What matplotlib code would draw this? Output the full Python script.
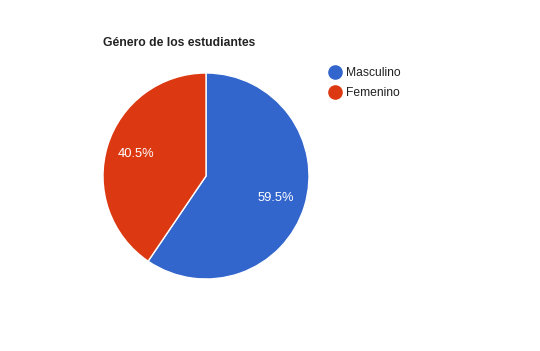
import matplotlib
matplotlib.use('Agg')
import matplotlib.pyplot as plt
from matplotlib.lines import Line2D

# Data
labels = ['Masculino', 'Femenino']
values = [59.5, 40.5]
colors = ['#3366CC', '#DC3912']
title = 'Género de los estudiantes'

plt.rcParams['font.family'] = ['Liberation Sans', 'DejaVu Sans']

W, H = 540, 351
fig = plt.figure(figsize=(W / 100, H / 100), dpi=100, facecolor='white')

# pie axes placed in pixel coordinates (center ~ (206,176), radius ~103)
cx, cy, r = 206, 176, 103
ax = fig.add_axes([(cx - r) / W, (H - cy - r) / H, 2 * r / W, 2 * r / H])
wedges, texts, autotexts = ax.pie(
    values, colors=colors, startangle=90, counterclock=False,
    autopct='%1.1f%%', pctdistance=0.71, radius=1,
    wedgeprops=dict(edgecolor='white', linewidth=1),
    textprops=dict(color='white', fontsize=9.3))
ax.set_xlim(-1, 1)
ax.set_ylim(-1, 1)
ax.axis('off')

fig.text(103 / W, 1 - 42 / H, title, fontsize=8.7, fontweight='bold',
         color='#222222', va='center_baseline', ha='left')

# legend
for i, (lab, col) in enumerate(zip(labels, colors)):
    y = 1 - (72 + 20 * i) / H
    fig.add_artist(Line2D([335 / W], [y], marker='o', markersize=9.5,
                          color=col, linestyle='none',
                          transform=fig.transFigure))
    fig.text(346 / W, y, lab, fontsize=8.7, color='#222222',
             va='center_baseline', ha='left')

fig.savefig('out.png', dpi=100, facecolor='white')
